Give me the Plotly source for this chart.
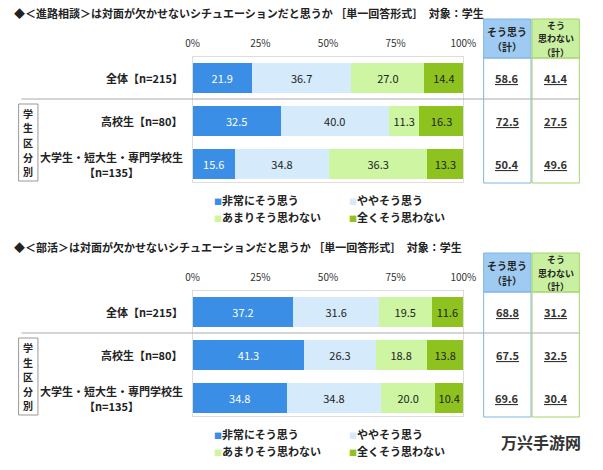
import plotly.graph_objects as go

W, H = 603, 470
FONT = "Noto Sans CJK JP"

# ---------------- data ----------------
series = ["非常にそう思う", "ややそう思う", "あまりそう思わない", "全くそう思わない"]
colors = ["#3a8ee6", "#d5eafa", "#cdf5a2", "#8ec31f"]
text_colors = ["#ffffff", "#222222", "#222222", "#222222"]

rows = ["全体【n=215】", "高校生【n=80】", "大学生・短大生・専門学校生【n=135】"]

title1 = "◆＜進路相談＞は対面が欠かせないシチュエーションだと思うか ［単一回答形式］　対象：学生"
vals1 = {
    "非常にそう思う": [21.9, 32.5, 15.6],
    "ややそう思う": [36.7, 40.0, 34.8],
    "あまりそう思わない": [27.0, 11.3, 36.3],
    "全くそう思わない": [14.4, 16.3, 13.3],
}
agree1 = [58.6, 72.5, 50.4]
disagree1 = [41.4, 27.5, 49.6]

title2 = "◆＜部活＞は対面が欠かせないシチュエーションだと思うか ［単一回答形式］　対象：学生"
vals2 = {
    "非常にそう思う": [37.2, 41.3, 34.8],
    "ややそう思う": [31.6, 26.3, 34.8],
    "あまりそう思わない": [19.5, 18.8, 20.0],
    "全くそう思わない": [11.6, 13.8, 10.4],
}
agree2 = [68.8, 67.5, 69.6]
disagree2 = [31.2, 32.5, 30.4]

tick_vals = [0, 25, 50, 75, 100]
tick_text = ["0%", "25%", "50%", "75%", "100%"]

group_label = ["学", "生", "区", "分", "別"]
header_agree = ["そう思う", "（計）"]
header_disagree = ["そう", "思わない", "（計）"]

# ---------------- helpers ----------------
def px(x):
    return x / W

def py(y):
    return 1 - y / H

fig = go.Figure()
annotations = []
shapes = []

X0, X1 = 192, 472


def label(x, y, text, size=11, anchor="center", color="#222", family=FONT):
    annotations.append(dict(
        x=px(x), y=py(y), xref="paper", yref="paper", xanchor=anchor,
        yanchor="middle", showarrow=False, text=text,
        font=dict(size=size, color=color, family=family)))


def section(idx, dy, title, vals, agree, disagree):
    xa = "x" if idx == 1 else "x2"
    ya = "y" if idx == 1 else "y2"
    for s, c, tc in zip(series, colors, text_colors):
        fig.add_trace(go.Bar(
            x=vals[s], y=rows, orientation="h", name=s,
            marker=dict(color=c, line=dict(width=0)),
            width=0.7,
            text=vals[s], texttemplate="%{x:.1f}",
            textposition="inside", insidetextanchor="middle",
            textfont=dict(color=tc, size=11, family=FONT),
            xaxis=xa, yaxis=ya, showlegend=False, hoverinfo="x+name",
        ))
    top, bottom = 57 + dy, 182 + dy
    axx = dict(
        domain=[px(X0), px(X1)], range=[0, 100], side="top",
        tickvals=tick_vals, ticktext=tick_text,
        tickfont=dict(size=10, color="#333", family=FONT),
        ticks="outside", ticklen=5, tickcolor="rgba(0,0,0,0)",
        showgrid=False, zeroline=False,
        showline=True, mirror=True, linecolor="#dddddd", linewidth=1,
        anchor=ya, fixedrange=True,
    )
    axy = dict(
        domain=[py(bottom), py(top)], type="category", categoryarray=rows,
        range=[2.419, -0.488], showticklabels=False, showgrid=False,
        zeroline=False, showline=True, mirror=True, linecolor="#dddddd",
        anchor=xa, fixedrange=True,
    )
    if idx == 1:
        fig.update_layout(xaxis=axx, yaxis=axy)
    else:
        fig.update_layout(xaxis2=axx, yaxis2=axy)

    # title
    label(5, 13 + dy, "<b>" + title + "</b>", anchor="left")

    centers = [78 + dy, 121 + dy, 164 + dy]
    # row labels
    label(184, centers[0], "<b>全体【n=215】</b>", anchor="right")
    label(184, centers[1], "<b>高校生【n=80】</b>", anchor="right")
    label(184, centers[2] - 7, "<b>大学生・短大生・専門学校生</b>", anchor="right")
    label(108, centers[2] + 8, "<b>【n=135】</b>")
    # group box
    shapes.append(dict(type="rect", xref="paper", yref="paper",
                       x0=px(12), x1=px(32), y0=py(181 + dy), y1=py(104 + dy),
                       line=dict(color="#999", width=1)))
    for i, ch in enumerate(group_label):
        label(22, 113.5 + 14.5 * i + dy, f"<b>{ch}</b>", size=10)
    # separator line
    shapes.append(dict(type="line", xref="paper", yref="paper",
                       x0=px(15), x1=px(592), y0=py(99 + dy), y1=py(99 + dy),
                       line=dict(color="#aaaaaa", width=1)))
    # right columns
    shapes.append(dict(type="rect", xref="paper", yref="paper",
                       x0=px(493), x1=px(542), y0=py(58 + dy), y1=py(19 + dy),
                       fillcolor="#9fcbf3", line=dict(color="#7fb4e8", width=1)))
    shapes.append(dict(type="rect", xref="paper", yref="paper",
                       x0=px(543), x1=px(592), y0=py(58 + dy), y1=py(19 + dy),
                       fillcolor="#c9f0a0", line=dict(color="#a6d46a", width=1)))
    shapes.append(dict(type="rect", xref="paper", yref="paper",
                       x0=px(493), x1=px(542), y0=py(183 + dy), y1=py(58 + dy),
                       line=dict(color="#7fb4e8", width=1)))
    shapes.append(dict(type="rect", xref="paper", yref="paper",
                       x0=px(543), x1=px(592), y0=py(183 + dy), y1=py(58 + dy),
                       line=dict(color="#a6d46a", width=1)))
    for i, t in enumerate(header_agree):
        label(517.5, 31.5 + 14.5 * i + dy, f"<b>{t}</b>", size=10)
    for i, t in enumerate(header_disagree):
        label(567.5, 25.5 + 13.5 * i + dy, f"<b>{t}</b>", size=9)
    for c, a, d in zip(centers, agree, disagree):
        label(517.5, c, f"<b><u>{a:.1f}</u></b>", color="#333")
        label(567.5, c, f"<b><u>{d:.1f}</u></b>", color="#333")
    # legend (as text)
    ly = [200 + dy, 217 + dy]
    lx = [212, 352]
    pos = [(lx[0], ly[0]), (lx[1], ly[0]), (lx[0], ly[1]), (lx[1], ly[1])]
    for (x, y), s, c in zip(pos, series, colors):
        label(x, y, f"<span style='font-size:8px;color:{c}'>■</span><b>{s}</b>",
              anchor="left")


section(1, 0, title1, vals1, agree1, disagree1)
section(2, 234, title2, vals2, agree2, disagree2)

# watermark
label(552, 442, "<b>万兴手游网</b>", size=16, color="#333", family="Noto Sans CJK SC")

fig.update_layout(
    width=W, height=H, margin=dict(l=0, r=0, t=0, b=0),
    barmode="stack", bargap=0.3,
    paper_bgcolor="white", plot_bgcolor="white",
    font=dict(family=FONT, color="#222"),
    uniformtext=dict(minsize=11, mode="show"),
    annotations=annotations, shapes=shapes,
)

fig.write_html("out.html", config={"displayModeBar": False},
               post_script="document.body.style.margin='0';")
